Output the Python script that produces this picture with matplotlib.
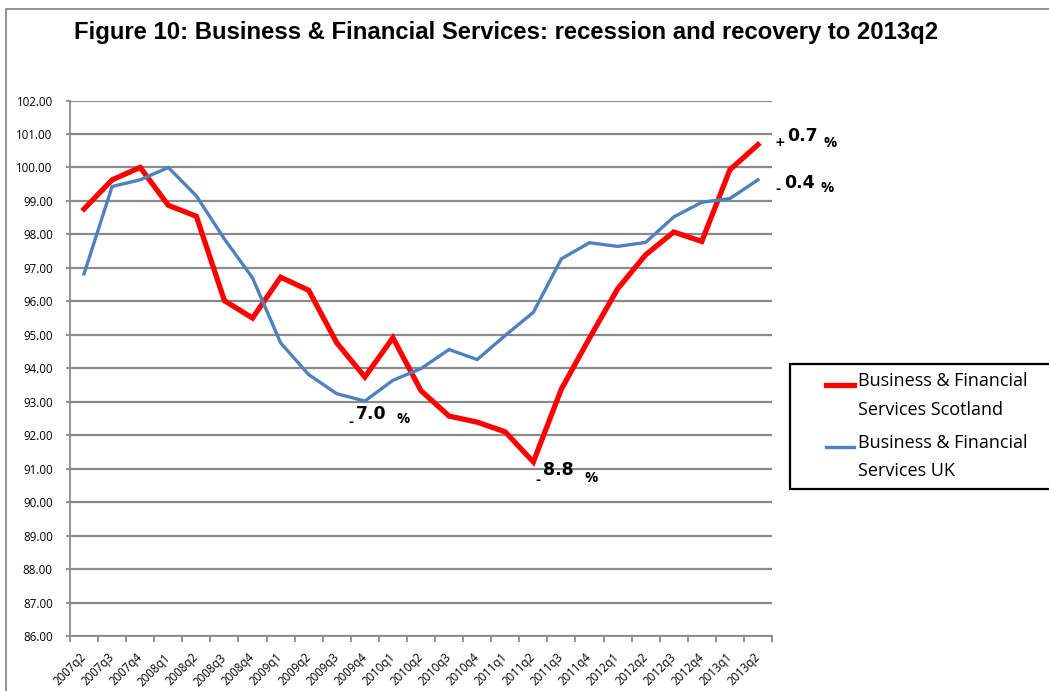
import matplotlib
matplotlib.use('Agg')
import matplotlib.pyplot as plt
from matplotlib.patches import Rectangle
from matplotlib.lines import Line2D
from matplotlib.legend_handler import HandlerLine2D

######## data: index, pre-recession peak = 100 ########
quarters = ['2007q2', '2007q3', '2007q4', '2008q1', '2008q2', '2008q3', '2008q4',
            '2009q1', '2009q2', '2009q3', '2009q4', '2010q1', '2010q2', '2010q3',
            '2010q4', '2011q1', '2011q2', '2011q3', '2011q4', '2012q1', '2012q2',
            '2012q3', '2012q4', '2013q1', '2013q2']
scotland = [98.76, 99.63, 100.00, 98.87, 98.54, 96.02, 95.50, 96.72, 96.33, 94.76,
            93.74, 94.91, 93.33, 92.57, 92.39, 92.10, 91.20, 93.38, 94.90, 96.37,
            97.39, 98.07, 97.79, 99.93, 100.68]
uk = [96.82, 99.43, 99.63, 100.00, 99.15, 97.86, 96.70, 94.76, 93.81, 93.24,
      93.02, 93.64, 93.99, 94.56, 94.26, 94.98, 95.67, 97.27, 97.75, 97.64,
      97.76, 98.52, 98.96, 99.07, 99.63]
yticks = [86 + k for k in range(17)]


class FirstLineHandler(HandlerLine2D):
    # legend key sits level with the first line of a two-line label
    def create_artists(self, legend, orig_handle, xdescent, ydescent, width, height,
                       fontsize, trans):
        arts = super().create_artists(legend, orig_handle, xdescent, ydescent, width,
                                      height, fontsize, trans)
        for a in arts:
            a.set_ydata([y + 0.62 * fontsize for y in a.get_ydata()])
        return arts


W, H = 1049, 691
fig = plt.figure(figsize=(W / 100, H / 100), dpi=100)
ax = fig.add_axes([70 / W, 1 - 636 / H, 702 / W, 535.5 / H])

# outer chart border (only top/left edges fall inside the page)
fig.add_artist(Rectangle((6 / W, -0.2), 1.2, 1.2 - 9 / H, transform=fig.transFigure,
                         facecolor='none', edgecolor='#8a8a8a', lw=1.3))

xs = list(range(len(quarters)))
ax.plot(xs, scotland, color='#ff0000', lw=3.8, label='Business & Financial\nServices Scotland',
        solid_joinstyle='miter', zorder=3)
ax.plot(xs, uk, color='#4f81bd', lw=2.4, label='Business & Financial\nServices UK',
        solid_joinstyle='miter', zorder=3)

ax.set_xlim(-0.5, len(quarters) - 0.5)
ax.set_ylim(86, 102)
ax.set_yticks(yticks)
ax.set_yticklabels(['%.2f' % v for v in yticks], family='Open Sans', fontsize=8.3)
ax.set_xticks(xs)
ax.set_xticklabels(quarters, rotation=45, ha='right', va='center', rotation_mode='anchor',
                   family='Open Sans', fontsize=8.3)
ax.set_xticks([x - 0.5 for x in xs] + [xs[-1] + 0.5], minor=True)
ax.tick_params(axis='x', which='major', length=0, pad=14)
ax.tick_params(axis='x', which='minor', length=4, width=1.3, color='#8a8a8a')
ax.tick_params(axis='y', length=3, width=1.3, color='#8a8a8a', pad=9.5)
ax.grid(axis='y', color='#8a8a8a', lw=1.6)
ax.set_axisbelow(True)
for s in ['top', 'right']:
    ax.spines[s].set_visible(False)
for s in ['left', 'bottom']:
    ax.spines[s].set_color('#8a8a8a')
    ax.spines[s].set_linewidth(1.3)

# percentage change labels: small sign, bold figure, %
def pct_label(i, v, sign_off, num_off, pc_off):
    pct = v - 100
    sign = '+' if pct >= 0 else '-'
    kw = dict(xy=(i, v), textcoords='offset pixels', ha='left', va='center',
              fontweight='bold', annotation_clip=False)
    ax.annotate(sign, xytext=sign_off, fontsize=9, family='DejaVu Sans', **kw)
    ax.annotate('%.1f' % abs(pct), xytext=num_off, fontsize=12.5, family='DejaVu Sans', **kw)
    ax.annotate('%', xytext=pc_off, fontsize=10.5, family='Open Sans', **kw)

iu = uk.index(min(uk))
isc = scotland.index(min(scotland))
pct_label(iu, uk[iu], (-16, -21), (-9, -13), (32, -18))
pct_label(isc, scotland[isc], (2, -19), (10, -8), (51, -16))
pct_label(xs[-1], scotland[-1], (17, 2), (29, 9), (66, 2))
pct_label(xs[-1], uk[-1], (17, -10), (26, -3), (63, -8))

leg = ax.legend(loc='upper left', bbox_to_anchor=(790 / W, 1 - 364 / H, 290 / W, 0),
                bbox_transform=fig.transFigure, mode='expand', borderaxespad=0,
                prop={'family': 'Open Sans', 'size': 13}, fancybox=False, framealpha=1,
                handlelength=3.1, handletextpad=0.22, labelspacing=0.85, borderpad=0.45,
                handler_map={Line2D: FirstLineHandler(xpad=1.55)})
leg.get_frame().set_edgecolor('black')
leg.get_frame().set_linewidth(1.6)
for t in leg.get_texts():
    t.set_linespacing(1.75)

fig.text(506 / W, 1 - 33 / H,
         'Figure 10: Business & Financial Services: recession and recovery to 2013q2',
         ha='center', va='center', fontsize=17.2, fontweight='bold', family='Liberation Sans')

fig.savefig('out.png', dpi=100)
